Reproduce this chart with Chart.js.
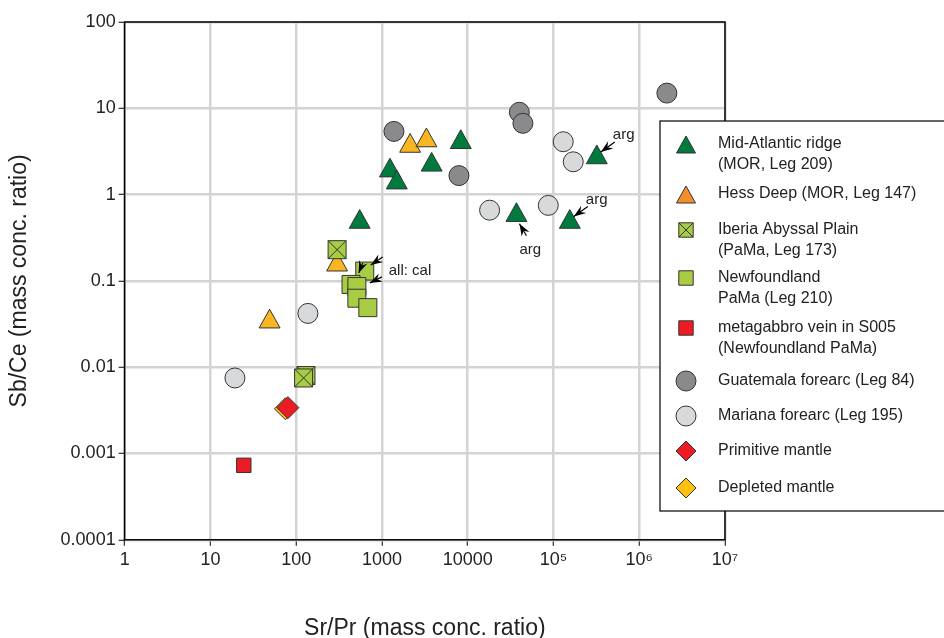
<!DOCTYPE html>
<html><head><meta charset="utf-8">
<script src="https://cdn.jsdelivr.net/npm/chart.js@4"></script>
<style>body{margin:0;background:#fff}#wrap{width:944px;height:638px}</style>
</head><body><div id="wrap"><canvas id="chart"></canvas></div>
<script>
const xTicks = [1,10,100,1000,10000,1e5,1e6,1e7];
const xTickLabels = ["1","10","100","1000","10000","10⁵","10⁶","10⁷"];
const yTicks = [0.0001,0.001,0.01,0.1,1,10,100];
const yTickLabels = ["0.0001","0.001","0.01","0.1","1","10","100"];

const marX = [550,1240,1490,3800,8300,37000,155000,320000];
const marY = [0.5,1.97,1.43,2.3,4.2,0.6,0.5,2.8];
const hessX = [49,300,2130,3300];
const hessY = [0.035,0.16,3.8,4.4];
const iberiaX = [300,130,122];
const iberiaY = [0.23,0.008,0.0075];
const nfX = [630,436,510,510,685];
const nfY = [0.13,0.091,0.086,0.063,0.049];
const veinX = [24.5];
const veinY = [0.00073];
const guatX = [1380,7900,40000,44000,2.1e6];
const guatY = [5.4,1.66,9,6.7,15];
const marianaX = [19.3,137,18000,87000,130000,170000];
const marianaY = [0.0075,0.042,0.66,0.75,4.1,2.4];
const depX = [75];
const depY = [0.0033];
const primX = [80];
const primY = [0.0034];

const pts = (xs, ys) => xs.map((x, i) => ({ x: x, y: ys[i] }));

const series = [
  { label: "Mid-Atlantic ridge|(MOR, Leg 209)", data: pts(marX, marY), style: "triangle", color: "#007a3d", r: 11 },
  { label: "Hess Deep (MOR, Leg 147)", data: pts(hessX, hessY), style: "triangle", color: "#f9b522", legColor: "#f58f2a", r: 11 },
  { label: "Iberia Abyssal Plain|(PaMa, Leg 173)", data: pts(iberiaX, iberiaY), style: "crossbox", color: "#a8cd45", r: 10 },
  { label: "Newfoundland|PaMa (Leg 210)", data: pts(nfX, nfY), style: "rect", color: "#a8cd45", r: 10 },
  { label: "metagabbro vein in S005|(Newfoundland PaMa)", data: pts(veinX, veinY), style: "rect", color: "#ed1c24", r: 8 },
  { label: "Guatemala forearc (Leg 84)", data: pts(guatX, guatY), style: "circle", color: "#8a8a8c", r: 10 },
  { label: "Mariana forearc (Leg 195)", data: pts(marianaX, marianaY), style: "circle", color: "#d8d9db", r: 10 },
  { label: "Primitive mantle", data: pts(primX, primY), style: "rectRot", color: "#ed1c24", r: 11 },
  { label: "Depleted mantle", data: pts(depX, depY), style: "rectRot", color: "#fdc010", r: 11 }
];
const legendRows = [144, 194, 230, 278, 328, 381, 416, 451, 488];
const drawOrder = [0, 1, 2, 3, 4, 5, 6, 8, 7];

function drawMarker(ctx, style, color, x, y, r) {
  ctx.save();
  ctx.fillStyle = color; ctx.strokeStyle = "#333"; ctx.lineWidth = 1;
  ctx.beginPath();
  if (style === "triangle") {
    ctx.moveTo(x, y - r); ctx.lineTo(x + r * 0.95, y + r * 0.7); ctx.lineTo(x - r * 0.95, y + r * 0.7); ctx.closePath();
  } else if (style === "circle") {
    ctx.arc(x, y, r, 0, Math.PI * 2);
  } else if (style === "rectRot") {
    ctx.moveTo(x, y - r); ctx.lineTo(x + r, y); ctx.lineTo(x, y + r); ctx.lineTo(x - r, y); ctx.closePath();
  } else {
    ctx.rect(x - r * 0.9, y - r * 0.9, r * 1.8, r * 1.8);
  }
  ctx.fill(); ctx.stroke();
  if (style === "crossbox") {
    const d = r * 0.9;
    ctx.beginPath();
    ctx.moveTo(x - d, y - d); ctx.lineTo(x + d, y + d);
    ctx.moveTo(x + d, y - d); ctx.lineTo(x - d, y + d);
    ctx.stroke();
  }
  ctx.restore();
}

function arrow(ctx, x1, y1, x2, y2) {
  ctx.save();
  ctx.strokeStyle = "#000"; ctx.fillStyle = "#000"; ctx.lineWidth = 1.2;
  ctx.beginPath(); ctx.moveTo(x1, y1); ctx.lineTo(x2, y2); ctx.stroke();
  const a = Math.atan2(y2 - y1, x2 - x1);
  ctx.beginPath();
  ctx.moveTo(x2, y2);
  ctx.lineTo(x2 - 13 * Math.cos(a - 0.35), y2 - 13 * Math.sin(a - 0.35));
  ctx.lineTo(x2 - 8 * Math.cos(a), y2 - 8 * Math.sin(a));
  ctx.lineTo(x2 - 13 * Math.cos(a + 0.35), y2 - 13 * Math.sin(a + 0.35));
  ctx.closePath(); ctx.fill();
  ctx.restore();
}

const overlay = {
  id: "overlay",
  afterDatasetsDraw(chart) {
    const ctx = chart.ctx, xs = chart.scales.x, ys = chart.scales.y;
    drawOrder.forEach(k => { const s = series[k];
      s.data.forEach(p => drawMarker(ctx, s.style, s.color, xs.getPixelForValue(p.x), ys.getPixelForValue(p.y), s.r)); });
    const a = chart.chartArea;
    ctx.save(); ctx.strokeStyle = "#000"; ctx.lineWidth = 1.5;
    ctx.strokeRect(a.left, a.top, a.right - a.left, a.bottom - a.top); ctx.restore();
    // annotations
    ctx.save(); ctx.font = "15px Arial, 'Liberation Sans'"; ctx.fillStyle = "#222";
    const P = (x, y) => [xs.getPixelForValue(x), ys.getPixelForValue(y)];
    let q = P(320000, 2.8); arrow(ctx, q[0] + 18, q[1] - 14, q[0] + 4, q[1] - 4); ctx.fillText("arg", q[0] + 16, q[1] - 17);
    q = P(155000, 0.5); arrow(ctx, q[0] + 18, q[1] - 14, q[0] + 4, q[1] - 4); ctx.fillText("arg", q[0] + 16, q[1] - 17);
    q = P(37000, 0.6); arrow(ctx, q[0] + 10, q[1] + 22, q[0] + 3, q[1] + 10); ctx.fillText("arg", q[0] + 3, q[1] + 40);
    q = P(630, 0.13); arrow(ctx, q[0] + 18, q[1] - 14, q[0] + 6, q[1] - 6); arrow(ctx, q[0] - 2, q[1] - 8, q[0] - 6, q[1] + 2);
    q = P(685, 0.1); arrow(ctx, q[0] + 14, q[1] - 4, q[0] + 2, q[1] + 2);
    q = P(630, 0.13); ctx.fillText("all: cal", q[0] + 24, q[1] + 4);
    ctx.restore();
    // legend
    ctx.save();
    const lx = 660, ly = 121, lw = 290, lh = 390;
    ctx.fillStyle = "#fff"; ctx.fillRect(lx, ly, lw, lh);
    ctx.strokeStyle = "#000"; ctx.lineWidth = 1.2; ctx.strokeRect(lx, ly, lw, lh);
    ctx.font = "16px Arial, 'Liberation Sans'"; ctx.fillStyle = "#222"; ctx.textBaseline = "middle";
    series.forEach((s, i) => {
      const y = legendRows[i];
      const small = s.style === "rect" || s.style === "crossbox";
      drawMarker(ctx, s.style, s.legColor || s.color, 686, y + (s.style === "triangle" ? 2 : 0), small ? 8 : 10);
      s.label.split("|").forEach((t, j) => ctx.fillText(t, 718, y + j * 21));
    });
    ctx.restore();
  }
};

const logAxis = (min, max, ticks, labels, title, pad) => ({
  type: "logarithmic", min: min, max: max,
  afterBuildTicks: ax => { ax.ticks = ticks.map(v => ({ value: v })); },
  ticks: { color: "#222", font: { size: 18, family: "Arial, 'Liberation Sans'" }, autoSkip: false, maxRotation: 0,
    callback: v => { const i = ticks.indexOf(v); return i >= 0 ? labels[i] : ""; } },
  grid: { color: "#d4d4d4", lineWidth: 2.5, drawTicks: true, tickColor: "#000", tickLength: 6, tickWidth: 1 },
  border: { display: false },
  title: { display: true, text: title, color: "#222", padding: pad, font: { size: 23, family: "Arial, 'Liberation Sans'" } }
});

new Chart(document.getElementById("chart"), {
  type: "scatter",
  data: { datasets: series.map(s => ({ label: s.label, data: s.data, pointRadius: 0, pointHoverRadius: 0 })) },
  options: {
    responsive: true, maintainAspectRatio: false, animation: false,
    layout: { padding: { top: 22, right: 219, bottom: 0, left: 6 } },
    plugins: { legend: { display: false }, tooltip: { enabled: false } },
    scales: {
      x: logAxis(1, 1e7, xTicks, xTickLabels, "Sr/Pr (mass conc. ratio)", { top: 41, bottom: -4 }),
      y: logAxis(0.0001, 100, yTicks, yTickLabels, "Sb/Ce (mass conc. ratio)", { top: 0, bottom: 24 })
    }
  },
  plugins: [overlay]
});
</script></body></html>
